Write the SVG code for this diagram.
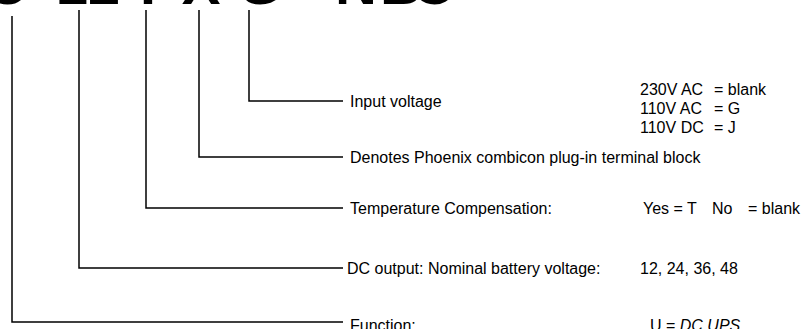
<svg xmlns="http://www.w3.org/2000/svg" width="801" height="329" viewBox="0 0 801 329">
<style>
.code{font-family:"Liberation Sans",Arial,sans-serif;font-weight:bold;font-size:58px;fill:#000;text-anchor:middle}
.t{font-family:"Liberation Sans",Arial,sans-serif;font-size:16px;fill:#000}
.ln{fill:none;stroke:#000;stroke-width:1.5}
</style>
<rect width="801" height="329" fill="#fff"/>
<g id="code">
<text class="code" y="4"><tspan x="8">U</tspan><tspan x="88">12</tspan><tspan x="148">T</tspan><tspan x="201">X</tspan><tspan x="260">G</tspan><tspan x="356">N</tspan><tspan x="401">B</tspan><tspan x="433">C</tspan></text>
</g>
<g id="connectors">
<polyline class="ln" points="12,16 12,322 343,322"/>
<polyline class="ln" points="79,10 79,268 343,268"/>
<polyline class="ln" points="146,10 146,208 343,208"/>
<polyline class="ln" points="199,10 199,157 343,157"/>
<polyline class="ln" points="249,10 249,101 343,101"/>
</g>
<g id="input">
<text class="t" x="350" y="107">Input voltage</text>
<text class="t" y="95"><tspan x="640">230V AC</tspan><tspan x="714">= blank</tspan></text>
<text class="t" y="114"><tspan x="640">110V AC</tspan><tspan x="714">= G</tspan></text>
<text class="t" y="133"><tspan x="640">110V DC</tspan><tspan x="714">= J</tspan></text>
</g>
<g id="phoenix">
<text class="t" x="350" y="163">Denotes Phoenix combicon plug-in terminal block</text>
</g>
<g id="temp">
<text class="t" x="350" y="214">Temperature Compensation:</text>
<text class="t" y="214"><tspan x="643">Yes = T</tspan><tspan x="712">No</tspan><tspan x="748">= blank</tspan></text>
</g>
<g id="dcout">
<text class="t" x="347" y="274">DC output: Nominal battery voltage:</text>
<text class="t" x="640" y="274">12, 24, 36, 48</text>
</g>
<g id="function">
<text class="t" x="350" y="331">Function:</text>
<text class="t" x="650" y="331">U = <tspan font-style="italic">DC UPS</tspan></text>
</g>
</svg>
